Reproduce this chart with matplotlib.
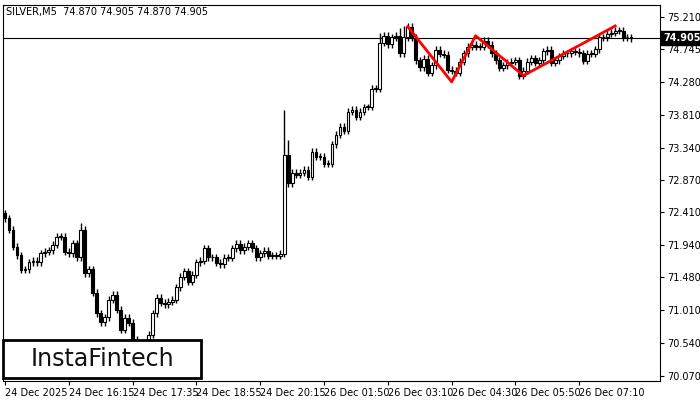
import matplotlib
matplotlib.use("Agg")
import matplotlib.pyplot as plt
from matplotlib.patches import Rectangle

closes = [72.33,72.16,71.92,71.80,71.59,71.60,71.70,71.72,71.70,71.83,71.85,71.87,71.95,72.06,72.06,71.85,71.83,71.97,71.77,72.16,
71.54,71.60,71.26,70.97,70.84,70.91,71.16,71.23,71.02,70.73,70.90,70.83,70.59,70.51,70.51,70.54,70.66,70.97,71.19,71.12,
71.10,71.13,71.16,71.34,71.49,71.57,71.42,71.52,71.70,71.72,71.90,71.77,71.77,71.69,71.67,71.76,71.76,71.90,71.96,71.87,
71.92,71.97,71.90,71.77,71.83,71.86,71.79,71.80,71.79,71.82,73.23,72.83,72.98,72.95,72.98,73.02,72.92,73.28,73.21,73.21,
73.11,73.11,73.39,73.52,73.64,73.58,73.85,73.88,73.78,73.85,73.92,73.92,74.18,74.18,74.84,74.94,74.82,74.92,74.94,74.69,
74.92,75.07,74.91,74.59,74.49,74.61,74.41,74.52,74.74,74.68,74.67,74.45,74.44,74.41,74.57,74.69,74.78,74.81,74.78,74.78,
74.87,74.81,74.69,74.59,74.48,74.52,74.55,74.57,74.59,74.37,74.44,74.57,74.62,74.55,74.59,74.72,74.74,74.55,74.59,74.65,
74.69,74.69,74.72,74.71,74.69,74.58,74.68,74.68,74.75,74.92,74.92,74.97,74.98,75.01,75.01,74.92,74.92,74.905]
first_open = 72.40
wick = 0.05
spikes = {70: 73.87, 71: 73.45, 94: 74.98, 99: 75.05, 100: 75.08, 19: 72.26, 36: 70.30}

zig_idx = [101, 112, 118, 130, 153]
zig_val = [75.07, 74.28, 74.94, 74.37, 75.08]

tick_idx = [0,16,32,48,64,80,96,112,128,144]
tick_lab = ["24 Dec 2025","24 Dec 16:15","24 Dec 17:35","24 Dec 18:55","24 Dec 20:15",
            "26 Dec 01:50","26 Dec 03:10","26 Dec 04:30","26 Dec 05:50","26 Dec 07:10"]
ytick_vals = [75.210,74.745,74.280,73.810,73.340,72.870,72.410,71.940,71.480,71.010,70.540,70.070]
last_price = 74.905

fig = plt.figure(figsize=(7,4), dpi=100)
ax = fig.add_axes([3/700, 19/400, 657/700, 376/400])
opens = [first_open] + closes[:-1]
for i,(o,c) in enumerate(zip(opens, closes)):
    hi = max(o,c) + wick; lo = min(o,c) - wick
    if i in spikes:
        s = spikes[i]
        if s > hi: hi = s
        else: lo = s
    ax.vlines(i, lo, hi, color='black', lw=1)
    fill = 'white' if c >= o else 'black'
    ax.bar(i, max(abs(c-o), 0.008), bottom=min(o,c), width=0.7, color=fill, edgecolor='black', lw=0.8, zorder=3)
ax.plot(zig_idx, zig_val, color='red', lw=2, zorder=4)
ax.axhline(last_price, color='black', lw=0.8)
ax.set_xlim(-0.5, 164.25)
ax.set_ylim(69.998, 75.38)
ax.yaxis.tick_right()
ax.set_yticks(ytick_vals)
ax.set_yticklabels([f"{v:.3f}" for v in ytick_vals], fontsize=7)
ax.set_xticks(tick_idx)
ax.set_xticklabels(tick_lab, fontsize=7, ha='left')
ax.tick_params(length=3, pad=2)
ax.text(0.005, 0.995, "SILVER,M5  74.870 74.905 74.870 74.905", transform=ax.transAxes, fontsize=7, va='top')
ax.text(1.005, last_price, "74.905", transform=ax.get_yaxis_transform(), fontsize=7, color='white',
        va='center', ha='left', bbox=dict(facecolor='black', edgecolor='black', pad=1.5), fontweight='bold')
fig.patches.append(Rectangle((3/700, 22/400), 198/700, 38/400, transform=fig.transFigure,
                             facecolor='white', edgecolor='black', lw=2, zorder=10))
fig.text(102/700, 41/400, "InstaFintech", fontsize=17, va='center', ha='center', zorder=11, color='#111111')
fig.savefig("out.png", dpi=100)
